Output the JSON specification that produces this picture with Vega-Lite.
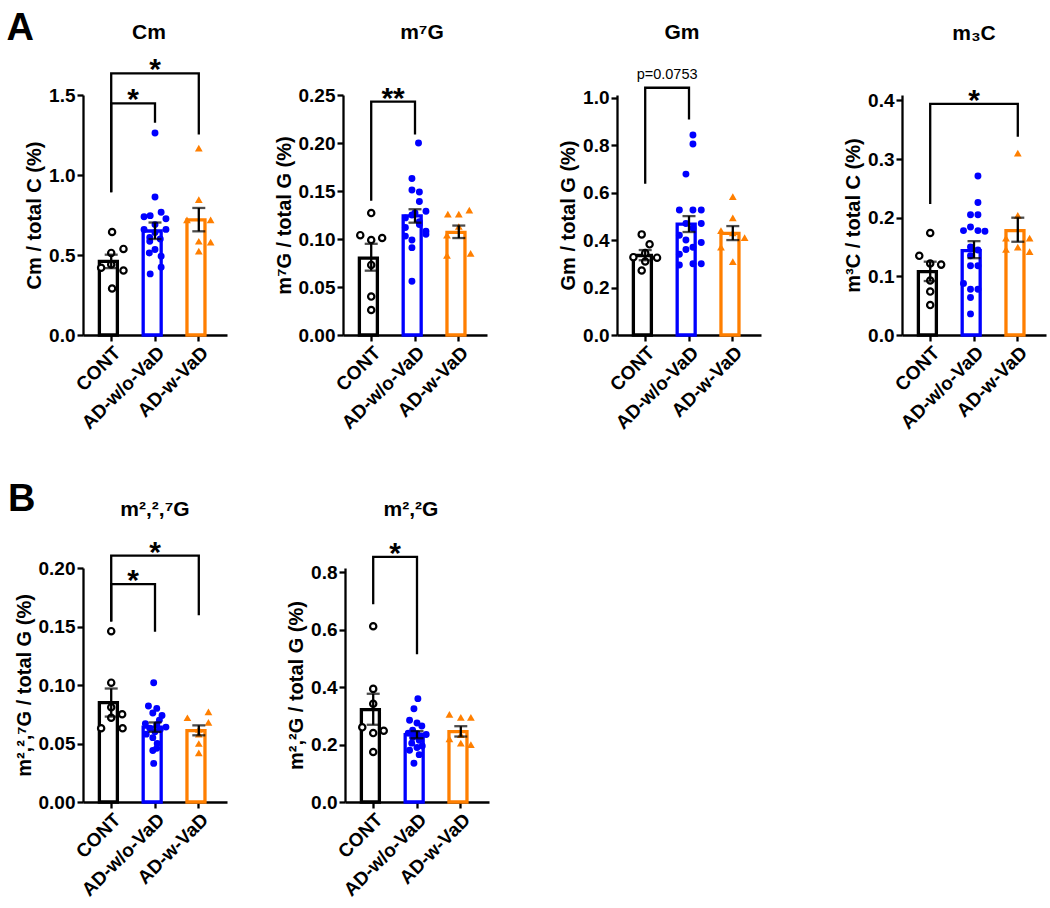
{
"$schema": "https://vega.github.io/schema/vega-lite/v6.json",
"padding": {"left": 6, "top": 10, "right": 2, "bottom": 2},
"background": "white",
"datasets": {
"pts": [
{"p":"Cm","g":"CONT","v":0.644,"j":0.02},{"p":"Cm","g":"CONT","v":0.538,"j":0.28},{"p":"Cm","g":"CONT","v":0.513,"j":0},{"p":"Cm","g":"CONT","v":0.44,"j":0},{"p":"Cm","g":"CONT","v":0.42,"j":-0.23},{"p":"Cm","g":"CONT","v":0.403,"j":0.28},{"p":"Cm","g":"CONT","v":0.291,"j":0.02},
{"p":"Cm","g":"AD-w/o-VaD","v":1.263,"j":0},{"p":"Cm","g":"AD-w/o-VaD","v":0.862,"j":0},{"p":"Cm","g":"AD-w/o-VaD","v":0.746,"j":-0.11},{"p":"Cm","g":"AD-w/o-VaD","v":0.739,"j":-0.25},{"p":"Cm","g":"AD-w/o-VaD","v":0.767,"j":0.14},{"p":"Cm","g":"AD-w/o-VaD","v":0.727,"j":0.25},{"p":"Cm","g":"AD-w/o-VaD","v":0.69,"j":0},{"p":"Cm","g":"AD-w/o-VaD","v":0.66,"j":-0.25},{"p":"Cm","g":"AD-w/o-VaD","v":0.66,"j":0.25},{"p":"Cm","g":"AD-w/o-VaD","v":0.64,"j":0},{"p":"Cm","g":"AD-w/o-VaD","v":0.61,"j":-0.12},{"p":"Cm","g":"AD-w/o-VaD","v":0.6,"j":0.12},{"p":"Cm","g":"AD-w/o-VaD","v":0.586,"j":-0.12},{"p":"Cm","g":"AD-w/o-VaD","v":0.534,"j":0},{"p":"Cm","g":"AD-w/o-VaD","v":0.513,"j":-0.13},{"p":"Cm","g":"AD-w/o-VaD","v":0.492,"j":0.14},{"p":"Cm","g":"AD-w/o-VaD","v":0.424,"j":0.14},{"p":"Cm","g":"AD-w/o-VaD","v":0.382,"j":-0.11},
{"p":"Cm","g":"AD-w-VaD","v":1.168,"j":0},{"p":"Cm","g":"AD-w-VaD","v":0.846,"j":0},{"p":"Cm","g":"AD-w-VaD","v":0.72,"j":-0.27},{"p":"Cm","g":"AD-w-VaD","v":0.72,"j":0.27},{"p":"Cm","g":"AD-w-VaD","v":0.586,"j":0},{"p":"Cm","g":"AD-w-VaD","v":0.58,"j":0.27},{"p":"Cm","g":"AD-w-VaD","v":0.524,"j":0},
{"p":"m7G","g":"CONT","v":0.127,"j":0},{"p":"m7G","g":"CONT","v":0.104,"j":-0.25},{"p":"m7G","g":"CONT","v":0.099,"j":0},{"p":"m7G","g":"CONT","v":0.101,"j":0.25},{"p":"m7G","g":"CONT","v":0.073,"j":0},{"p":"m7G","g":"CONT","v":0.04,"j":0},{"p":"m7G","g":"CONT","v":0.026,"j":0},
{"p":"m7G","g":"AD-w/o-VaD","v":0.2,"j":0.08},{"p":"m7G","g":"AD-w/o-VaD","v":0.163,"j":-0.07},{"p":"m7G","g":"AD-w/o-VaD","v":0.151,"j":-0.07},{"p":"m7G","g":"AD-w/o-VaD","v":0.149,"j":0.1},{"p":"m7G","g":"AD-w/o-VaD","v":0.139,"j":0.1},{"p":"m7G","g":"AD-w/o-VaD","v":0.129,"j":0.25},{"p":"m7G","g":"AD-w/o-VaD","v":0.127,"j":0},{"p":"m7G","g":"AD-w/o-VaD","v":0.125,"j":-0.07},{"p":"m7G","g":"AD-w/o-VaD","v":0.122,"j":-0.22},{"p":"m7G","g":"AD-w/o-VaD","v":0.118,"j":0.1},{"p":"m7G","g":"AD-w/o-VaD","v":0.115,"j":0.1},{"p":"m7G","g":"AD-w/o-VaD","v":0.112,"j":-0.22},{"p":"m7G","g":"AD-w/o-VaD","v":0.108,"j":0.25},{"p":"m7G","g":"AD-w/o-VaD","v":0.105,"j":0.25},{"p":"m7G","g":"AD-w/o-VaD","v":0.103,"j":-0.22},{"p":"m7G","g":"AD-w/o-VaD","v":0.099,"j":-0.07},{"p":"m7G","g":"AD-w/o-VaD","v":0.091,"j":-0.07},{"p":"m7G","g":"AD-w/o-VaD","v":0.056,"j":-0.07},
{"p":"m7G","g":"AD-w-VaD","v":0.126,"j":-0.25},{"p":"m7G","g":"AD-w-VaD","v":0.126,"j":0},{"p":"m7G","g":"AD-w-VaD","v":0.13,"j":0.24},{"p":"m7G","g":"AD-w-VaD","v":0.113,"j":0},{"p":"m7G","g":"AD-w-VaD","v":0.104,"j":-0.27},{"p":"m7G","g":"AD-w-VaD","v":0.083,"j":-0.27},{"p":"m7G","g":"AD-w-VaD","v":0.085,"j":0.27},
{"p":"Gm","g":"CONT","v":0.424,"j":-0.08},{"p":"Gm","g":"CONT","v":0.382,"j":0.1},{"p":"Gm","g":"CONT","v":0.345,"j":0},{"p":"Gm","g":"CONT","v":0.328,"j":-0.27},{"p":"Gm","g":"CONT","v":0.326,"j":0.27},{"p":"Gm","g":"CONT","v":0.31,"j":0},{"p":"Gm","g":"CONT","v":0.272,"j":-0.08},
{"p":"Gm","g":"AD-w/o-VaD","v":0.843,"j":0.09},{"p":"Gm","g":"AD-w/o-VaD","v":0.805,"j":0.09},{"p":"Gm","g":"AD-w/o-VaD","v":0.678,"j":-0.07},{"p":"Gm","g":"AD-w/o-VaD","v":0.527,"j":-0.22},{"p":"Gm","g":"AD-w/o-VaD","v":0.527,"j":0.09},{"p":"Gm","g":"AD-w/o-VaD","v":0.527,"j":0.28},{"p":"Gm","g":"AD-w/o-VaD","v":0.47,"j":-0.07},{"p":"Gm","g":"AD-w/o-VaD","v":0.47,"j":0.28},{"p":"Gm","g":"AD-w/o-VaD","v":0.45,"j":0.09},{"p":"Gm","g":"AD-w/o-VaD","v":0.42,"j":-0.22},{"p":"Gm","g":"AD-w/o-VaD","v":0.4,"j":-0.07},{"p":"Gm","g":"AD-w/o-VaD","v":0.39,"j":0.28},{"p":"Gm","g":"AD-w/o-VaD","v":0.37,"j":0.09},{"p":"Gm","g":"AD-w/o-VaD","v":0.36,"j":-0.07},{"p":"Gm","g":"AD-w/o-VaD","v":0.34,"j":-0.22},{"p":"Gm","g":"AD-w/o-VaD","v":0.3,"j":0.09},{"p":"Gm","g":"AD-w/o-VaD","v":0.295,"j":-0.22},{"p":"Gm","g":"AD-w/o-VaD","v":0.3,"j":0.28},
{"p":"Gm","g":"AD-w-VaD","v":0.583,"j":0},{"p":"Gm","g":"AD-w-VaD","v":0.494,"j":0},{"p":"Gm","g":"AD-w-VaD","v":0.44,"j":-0.27},{"p":"Gm","g":"AD-w-VaD","v":0.43,"j":0},{"p":"Gm","g":"AD-w-VaD","v":0.41,"j":0.27},{"p":"Gm","g":"AD-w-VaD","v":0.37,"j":-0.27},{"p":"Gm","g":"AD-w-VaD","v":0.309,"j":0},
{"p":"m3C","g":"CONT","v":0.174,"j":0},{"p":"m3C","g":"CONT","v":0.135,"j":-0.25},{"p":"m3C","g":"CONT","v":0.122,"j":0},{"p":"m3C","g":"CONT","v":0.12,"j":0.25},{"p":"m3C","g":"CONT","v":0.093,"j":0},{"p":"m3C","g":"CONT","v":0.074,"j":0},{"p":"m3C","g":"CONT","v":0.051,"j":0},
{"p":"m3C","g":"AD-w/o-VaD","v":0.271,"j":0.09},{"p":"m3C","g":"AD-w/o-VaD","v":0.226,"j":0.09},{"p":"m3C","g":"AD-w/o-VaD","v":0.205,"j":-0.08},{"p":"m3C","g":"AD-w/o-VaD","v":0.205,"j":0.09},{"p":"m3C","g":"AD-w/o-VaD","v":0.184,"j":-0.08},{"p":"m3C","g":"AD-w/o-VaD","v":0.178,"j":-0.24},{"p":"m3C","g":"AD-w/o-VaD","v":0.178,"j":0.09},{"p":"m3C","g":"AD-w/o-VaD","v":0.177,"j":0.25},{"p":"m3C","g":"AD-w/o-VaD","v":0.15,"j":-0.08},{"p":"m3C","g":"AD-w/o-VaD","v":0.145,"j":0.09},{"p":"m3C","g":"AD-w/o-VaD","v":0.135,"j":-0.08},{"p":"m3C","g":"AD-w/o-VaD","v":0.118,"j":-0.08},{"p":"m3C","g":"AD-w/o-VaD","v":0.118,"j":0.09},{"p":"m3C","g":"AD-w/o-VaD","v":0.088,"j":-0.24},{"p":"m3C","g":"AD-w/o-VaD","v":0.078,"j":-0.08},{"p":"m3C","g":"AD-w/o-VaD","v":0.078,"j":0.09},{"p":"m3C","g":"AD-w/o-VaD","v":0.064,"j":-0.08},{"p":"m3C","g":"AD-w/o-VaD","v":0.036,"j":-0.08},
{"p":"m3C","g":"AD-w-VaD","v":0.31,"j":0},{"p":"m3C","g":"AD-w-VaD","v":0.204,"j":0},{"p":"m3C","g":"AD-w-VaD","v":0.165,"j":-0.27},{"p":"m3C","g":"AD-w-VaD","v":0.165,"j":0.27},{"p":"m3C","g":"AD-w-VaD","v":0.15,"j":0},{"p":"m3C","g":"AD-w-VaD","v":0.146,"j":-0.27},{"p":"m3C","g":"AD-w-VaD","v":0.142,"j":0.27},
{"p":"m227G","g":"CONT","v":0.146,"j":0},{"p":"m227G","g":"CONT","v":0.102,"j":0},{"p":"m227G","g":"CONT","v":0.081,"j":0},{"p":"m227G","g":"CONT","v":0.072,"j":0},{"p":"m227G","g":"CONT","v":0.075,"j":0.25},{"p":"m227G","g":"CONT","v":0.063,"j":-0.23},{"p":"m227G","g":"CONT","v":0.063,"j":0.26},
{"p":"m227G","g":"AD-w/o-VaD","v":0.102,"j":-0.03},{"p":"m227G","g":"AD-w/o-VaD","v":0.082,"j":-0.15},{"p":"m227G","g":"AD-w/o-VaD","v":0.08,"j":0.04},{"p":"m227G","g":"AD-w/o-VaD","v":0.076,"j":-0.05},{"p":"m227G","g":"AD-w/o-VaD","v":0.074,"j":0.16},{"p":"m227G","g":"AD-w/o-VaD","v":0.07,"j":0.1},{"p":"m227G","g":"AD-w/o-VaD","v":0.067,"j":-0.22},{"p":"m227G","g":"AD-w/o-VaD","v":0.066,"j":0.04},{"p":"m227G","g":"AD-w/o-VaD","v":0.064,"j":0.25},{"p":"m227G","g":"AD-w/o-VaD","v":0.063,"j":-0.12},{"p":"m227G","g":"AD-w/o-VaD","v":0.062,"j":0.12},{"p":"m227G","g":"AD-w/o-VaD","v":0.06,"j":0},{"p":"m227G","g":"AD-w/o-VaD","v":0.058,"j":-0.2},{"p":"m227G","g":"AD-w/o-VaD","v":0.055,"j":-0.05},{"p":"m227G","g":"AD-w/o-VaD","v":0.05,"j":0.05},{"p":"m227G","g":"AD-w/o-VaD","v":0.046,"j":0.04},{"p":"m227G","g":"AD-w/o-VaD","v":0.044,"j":-0.05},{"p":"m227G","g":"AD-w/o-VaD","v":0.033,"j":-0.03},
{"p":"m227G","g":"AD-w-VaD","v":0.077,"j":0.22},{"p":"m227G","g":"AD-w-VaD","v":0.072,"j":-0.26},{"p":"m227G","g":"AD-w-VaD","v":0.068,"j":0.22},{"p":"m227G","g":"AD-w-VaD","v":0.062,"j":0},{"p":"m227G","g":"AD-w-VaD","v":0.058,"j":0},{"p":"m227G","g":"AD-w-VaD","v":0.05,"j":0},{"p":"m227G","g":"AD-w-VaD","v":0.042,"j":0},
{"p":"m22G","g":"CONT","v":0.612,"j":0},{"p":"m22G","g":"CONT","v":0.394,"j":0},{"p":"m22G","g":"CONT","v":0.342,"j":0},{"p":"m22G","g":"CONT","v":0.26,"j":-0.25},{"p":"m22G","g":"CONT","v":0.248,"j":0.24},{"p":"m22G","g":"CONT","v":0.24,"j":0},{"p":"m22G","g":"CONT","v":0.174,"j":0},
{"p":"m22G","g":"AD-w/o-VaD","v":0.36,"j":0.02},{"p":"m22G","g":"AD-w/o-VaD","v":0.325,"j":-0.07},{"p":"m22G","g":"AD-w/o-VaD","v":0.285,"j":-0.17},{"p":"m22G","g":"AD-w/o-VaD","v":0.275,"j":0},{"p":"m22G","g":"AD-w/o-VaD","v":0.265,"j":0.11},{"p":"m22G","g":"AD-w/o-VaD","v":0.25,"j":-0.1},{"p":"m22G","g":"AD-w/o-VaD","v":0.24,"j":-0.2},{"p":"m22G","g":"AD-w/o-VaD","v":0.238,"j":0},{"p":"m22G","g":"AD-w/o-VaD","v":0.235,"j":0.21},{"p":"m22G","g":"AD-w/o-VaD","v":0.23,"j":0.1},{"p":"m22G","g":"AD-w/o-VaD","v":0.225,"j":-0.1},{"p":"m22G","g":"AD-w/o-VaD","v":0.215,"j":0.05},{"p":"m22G","g":"AD-w/o-VaD","v":0.205,"j":-0.12},{"p":"m22G","g":"AD-w/o-VaD","v":0.195,"j":0.12},{"p":"m22G","g":"AD-w/o-VaD","v":0.19,"j":0},{"p":"m22G","g":"AD-w/o-VaD","v":0.18,"j":-0.17},{"p":"m22G","g":"AD-w/o-VaD","v":0.165,"j":0.05},{"p":"m22G","g":"AD-w/o-VaD","v":0.135,"j":-0.07},
{"p":"m22G","g":"AD-w-VaD","v":0.305,"j":-0.26},{"p":"m22G","g":"AD-w-VaD","v":0.295,"j":0},{"p":"m22G","g":"AD-w-VaD","v":0.295,"j":0.23},{"p":"m22G","g":"AD-w-VaD","v":0.235,"j":0},{"p":"m22G","g":"AD-w-VaD","v":0.22,"j":-0.26},{"p":"m22G","g":"AD-w-VaD","v":0.205,"j":0},{"p":"m22G","g":"AD-w-VaD","v":0.2,"j":0.23}
],
"bars": [
{"p":"Cm","g":"CONT","m":0.46,"lo":0.418,"hi":0.502},{"p":"Cm","g":"AD-w/o-VaD","m":0.65,"lo":0.6,"hi":0.703},{"p":"Cm","g":"AD-w-VaD","m":0.72,"lo":0.648,"hi":0.794},
{"p":"m7G","g":"CONT","m":0.08,"lo":0.067,"hi":0.095},{"p":"m7G","g":"AD-w/o-VaD","m":0.124,"lo":0.117,"hi":0.131},{"p":"m7G","g":"AD-w-VaD","m":0.107,"lo":0.101,"hi":0.114},
{"p":"Gm","g":"CONT","m":0.335,"lo":0.315,"hi":0.358},{"p":"Gm","g":"AD-w/o-VaD","m":0.467,"lo":0.434,"hi":0.501},{"p":"Gm","g":"AD-w-VaD","m":0.428,"lo":0.4,"hi":0.459},
{"p":"m3C","g":"CONT","m":0.108,"lo":0.092,"hi":0.125},{"p":"m3C","g":"AD-w/o-VaD","m":0.144,"lo":0.131,"hi":0.16},{"p":"m3C","g":"AD-w-VaD","m":0.178,"lo":0.159,"hi":0.2},
{"p":"m227G","g":"CONT","m":0.085,"lo":0.073,"hi":0.097},{"p":"m227G","g":"AD-w/o-VaD","m":0.064,"lo":0.06,"hi":0.068},{"p":"m227G","g":"AD-w-VaD","m":0.061,"lo":0.057,"hi":0.0655},
{"p":"m22G","g":"CONT","m":0.322,"lo":0.269,"hi":0.377},{"p":"m22G","g":"AD-w/o-VaD","m":0.235,"lo":0.222,"hi":0.247},{"p":"m22G","g":"AD-w-VaD","m":0.245,"lo":0.228,"hi":0.264}
],
"brk": [
{"p":"Cm","b":1,"o":1,"g":"CONT","v":0.899},{"p":"Cm","b":1,"o":2,"g":"CONT","v":1.448},{"p":"Cm","b":1,"o":3,"g":"AD-w/o-VaD","v":1.448},{"p":"Cm","b":1,"o":4,"g":"AD-w/o-VaD","v":1.334},
{"p":"Cm","b":2,"o":1,"g":"CONT","v":0.899},{"p":"Cm","b":2,"o":2,"g":"CONT","v":1.635},{"p":"Cm","b":2,"o":3,"g":"AD-w-VaD","v":1.635},{"p":"Cm","b":2,"o":4,"g":"AD-w-VaD","v":1.261},
{"p":"m7G","b":1,"o":1,"g":"CONT","v":0.141},{"p":"m7G","b":1,"o":2,"g":"CONT","v":0.243},{"p":"m7G","b":1,"o":3,"g":"AD-w/o-VaD","v":0.243},{"p":"m7G","b":1,"o":4,"g":"AD-w/o-VaD","v":0.21},
{"p":"Gm","b":1,"o":1,"g":"CONT","v":0.642},{"p":"Gm","b":1,"o":2,"g":"CONT","v":1.042},{"p":"Gm","b":1,"o":3,"g":"AD-w/o-VaD","v":1.042},{"p":"Gm","b":1,"o":4,"g":"AD-w/o-VaD","v":0.913},
{"p":"m3C","b":1,"o":1,"g":"CONT","v":0.2255},{"p":"m3C","b":1,"o":2,"g":"CONT","v":0.394},{"p":"m3C","b":1,"o":3,"g":"AD-w-VaD","v":0.394},{"p":"m3C","b":1,"o":4,"g":"AD-w-VaD","v":0.34},
{"p":"m227G","b":1,"o":1,"g":"CONT","v":0.1553},{"p":"m227G","b":1,"o":2,"g":"CONT","v":0.1863},{"p":"m227G","b":1,"o":3,"g":"AD-w/o-VaD","v":0.1863},{"p":"m227G","b":1,"o":4,"g":"AD-w/o-VaD","v":0.1464},
{"p":"m227G","b":2,"o":1,"g":"CONT","v":0.1553},{"p":"m227G","b":2,"o":2,"g":"CONT","v":0.2105},{"p":"m227G","b":2,"o":3,"g":"AD-w-VaD","v":0.2105},{"p":"m227G","b":2,"o":4,"g":"AD-w-VaD","v":0.1607},
{"p":"m22G","b":1,"o":1,"g":"CONT","v":0.693},{"p":"m22G","b":1,"o":2,"g":"CONT","v":0.854},{"p":"m22G","b":1,"o":3,"g":"AD-w/o-VaD","v":0.854},{"p":"m22G","b":1,"o":4,"g":"AD-w/o-VaD","v":0.519}
],
"sig": [
{"p":"Cm","g":"CONT","j":0.5,"v":1.448,"t":"*"},{"p":"Cm","g":"AD-w/o-VaD","j":0,"v":1.635,"t":"*"},
{"p":"m7G","g":"CONT","j":0.5,"v":0.243,"t":"**"},
{"p":"Gm","g":"CONT","j":0.5,"v":1.042,"t":"p=0.0753"},
{"p":"m3C","g":"AD-w/o-VaD","j":0,"v":0.394,"t":"*"},
{"p":"m227G","g":"CONT","j":0.5,"v":0.1863,"t":"*"},{"p":"m227G","g":"AD-w/o-VaD","j":0,"v":0.2105,"t":"*"},
{"p":"m22G","g":"CONT","j":0.5,"v":0.854,"t":"*"}
]
},
"spacing": 47,
"vconcat": [
{
"title": {"text": "A", "anchor": "start", "fontSize": 38, "offset": 0, "dx": -18, "dy": 26.5},
"spacing": 47,
"hconcat": [
{
"width": 144, "height": 240,
"title": {"text": "Cm", "frame": "group", "offset": 12, "dx": -6},
"layer": [
{"data": {"name": "bars"}, "transform": [{"filter": "datum.p==='Cm'"}], "mark": {"type": "bar", "fill": "white", "strokeWidth": 3.3},
"encoding": {"x": {"field": "g", "type": "nominal", "scale": {"domain": ["CONT","AD-w/o-VaD","AD-w-VaD"], "paddingInner": 0.46, "paddingOuter": 0.374}, "axis": {"title": null, "labelAngle": -45}},
"y": {"field": "m", "type": "quantitative", "scale": {"domain": [0, 1.5], "nice": false}, "axis": {"title": "Cm / total C (%)", "values": [0, 0.5, 1, 1.5], "format": ".1f"}},
"stroke": {"condition": [{"test": "datum.g==='CONT'", "value": "#000000"}, {"test": "datum.g==='AD-w-VaD'", "value": "#ff7f00"}], "value": "#0000ff"}}},
{"data": {"name": "pts"}, "transform": [{"filter": "datum.p==='Cm'"}], "mark": {"type": "point", "filled": true, "opacity": 1},
"encoding": {"x": {"field": "g", "type": "nominal"}, "xOffset": {"field": "j", "type": "quantitative", "scale": {"domain": [-1, 1], "range": [-31.97, 55.63]}}, "y": {"field": "v", "type": "quantitative"},
"shape": {"condition": {"test": "datum.g==='AD-w-VaD'", "value": "triangle-up"}, "value": "circle"},
"fill": {"condition": [{"test": "datum.g==='CONT'", "value": "#ffffff"}, {"test": "datum.g==='AD-w-VaD'", "value": "#ff7f00"}], "value": "#0000ff"},
"stroke": {"value": "#000000"},
"strokeWidth": {"condition": {"test": "datum.g==='CONT'", "value": 2.2}, "value": 0},
"size": {"condition": [{"test": "datum.g==='CONT'", "value": 40}, {"test": "datum.g==='AD-w-VaD'", "value": 60}], "value": 48}}},
{"data": {"name": "bars"}, "transform": [{"filter": "datum.p==='Cm'"}], "mark": {"type": "rule", "color": "#000000", "strokeWidth": 2.3},
"encoding": {"x": {"field": "g", "type": "nominal"}, "y": {"field": "lo", "type": "quantitative"}, "y2": {"field": "hi"}}},
{"data": {"name": "bars"}, "transform": [{"filter": "datum.p==='Cm'"}, {"fold": ["lo", "hi"], "as": ["k", "e"]}], "mark": {"type": "tick", "orient": "horizontal", "color": "#000000", "size": 13, "thickness": 2.3},
"encoding": {"x": {"field": "g", "type": "nominal"}, "y": {"field": "e", "type": "quantitative"}}},
{"data": {"name": "brk"}, "transform": [{"filter": "datum.p==='Cm'"}], "mark": {"type": "line", "color": "#000000", "strokeWidth": 2.3, "strokeJoin": "miter", "strokeCap": "square"},
"encoding": {"x": {"field": "g", "type": "nominal"}, "y": {"field": "v", "type": "quantitative"}, "detail": {"field": "b", "type": "nominal"}, "order": {"field": "o", "type": "quantitative"}}},
{"data": {"name": "sig"}, "transform": [{"filter": "datum.p==='Cm'"}], "mark": {"type": "text", "font": "Liberation Sans", "fontSize": 30, "fontWeight": "bold", "baseline": "alphabetic", "dy": 6, "color": "#000000"},
"encoding": {"x": {"field": "g", "type": "nominal"}, "xOffset": {"field": "j", "type": "quantitative"}, "y": {"field": "v", "type": "quantitative"}, "text": {"field": "t", "type": "nominal"}}}
]
},
{
"spacing": 71,
"hconcat": [
{
"width": 144, "height": 240,
"title": {"text": "m⁷G", "frame": "group", "offset": 41, "dx": 7},
"layer": [
{"data": {"name": "bars"}, "transform": [{"filter": "datum.p==='m7G'"}], "mark": {"type": "bar", "fill": "white", "strokeWidth": 3.3},
"encoding": {"x": {"field": "g", "type": "nominal", "scale": {"domain": ["CONT","AD-w/o-VaD","AD-w-VaD"], "paddingInner": 0.46, "paddingOuter": 0.374}, "axis": {"title": null, "labelAngle": -45}},
"y": {"field": "m", "type": "quantitative", "scale": {"domain": [0, 0.25], "nice": false}, "axis": {"title": "m⁷G / total G (%)", "values": [0, 0.05, 0.1, 0.15, 0.2, 0.25], "format": ".2f"}},
"stroke": {"condition": [{"test": "datum.g==='CONT'", "value": "#000000"}, {"test": "datum.g==='AD-w-VaD'", "value": "#ff7f00"}], "value": "#0000ff"}}},
{"data": {"name": "pts"}, "transform": [{"filter": "datum.p==='m7G'"}], "mark": {"type": "point", "filled": true, "opacity": 1},
"encoding": {"x": {"field": "g", "type": "nominal"}, "xOffset": {"field": "j", "type": "quantitative", "scale": {"domain": [-1, 1], "range": [-31.97, 55.63]}}, "y": {"field": "v", "type": "quantitative"},
"shape": {"condition": {"test": "datum.g==='AD-w-VaD'", "value": "triangle-up"}, "value": "circle"},
"fill": {"condition": [{"test": "datum.g==='CONT'", "value": "#ffffff"}, {"test": "datum.g==='AD-w-VaD'", "value": "#ff7f00"}], "value": "#0000ff"},
"stroke": {"value": "#000000"},
"strokeWidth": {"condition": {"test": "datum.g==='CONT'", "value": 2.2}, "value": 0},
"size": {"condition": [{"test": "datum.g==='CONT'", "value": 40}, {"test": "datum.g==='AD-w-VaD'", "value": 60}], "value": 48}}},
{"data": {"name": "bars"}, "transform": [{"filter": "datum.p==='m7G'"}], "mark": {"type": "rule", "color": "#000000", "strokeWidth": 2.3},
"encoding": {"x": {"field": "g", "type": "nominal"}, "y": {"field": "lo", "type": "quantitative"}, "y2": {"field": "hi"}}},
{"data": {"name": "bars"}, "transform": [{"filter": "datum.p==='m7G'"}, {"fold": ["lo", "hi"], "as": ["k", "e"]}], "mark": {"type": "tick", "orient": "horizontal", "color": "#000000", "size": 13, "thickness": 2.3},
"encoding": {"x": {"field": "g", "type": "nominal"}, "y": {"field": "e", "type": "quantitative"}}},
{"data": {"name": "brk"}, "transform": [{"filter": "datum.p==='m7G'"}], "mark": {"type": "line", "color": "#000000", "strokeWidth": 2.3, "strokeJoin": "miter", "strokeCap": "square"},
"encoding": {"x": {"field": "g", "type": "nominal"}, "y": {"field": "v", "type": "quantitative"}, "detail": {"field": "b", "type": "nominal"}, "order": {"field": "o", "type": "quantitative"}}},
{"data": {"name": "sig"}, "transform": [{"filter": "datum.p==='m7G'"}], "mark": {"type": "text", "font": "Liberation Sans", "fontSize": 30, "fontWeight": "bold", "baseline": "alphabetic", "dy": 6, "color": "#000000"},
"encoding": {"x": {"field": "g", "type": "nominal"}, "xOffset": {"field": "j", "type": "quantitative"}, "y": {"field": "v", "type": "quantitative"}, "text": {"field": "t", "type": "nominal"}}}
]
},
{
"spacing": 82,
"hconcat": [
{
"width": 144, "height": 240,
"title": {"text": "Gm", "frame": "group", "offset": 24, "dx": -7},
"layer": [
{"data": {"name": "bars"}, "transform": [{"filter": "datum.p==='Gm'"}], "mark": {"type": "bar", "fill": "white", "strokeWidth": 3.3},
"encoding": {"x": {"field": "g", "type": "nominal", "scale": {"domain": ["CONT","AD-w/o-VaD","AD-w-VaD"], "paddingInner": 0.46, "paddingOuter": 0.374}, "axis": {"title": null, "labelAngle": -45}},
"y": {"field": "m", "type": "quantitative", "scale": {"domain": [0, 1.0114], "nice": false}, "axis": {"title": "Gm / total G (%)", "values": [0, 0.2, 0.4, 0.6, 0.8, 1], "format": ".1f"}},
"stroke": {"condition": [{"test": "datum.g==='CONT'", "value": "#000000"}, {"test": "datum.g==='AD-w-VaD'", "value": "#ff7f00"}], "value": "#0000ff"}}},
{"data": {"name": "pts"}, "transform": [{"filter": "datum.p==='Gm'"}], "mark": {"type": "point", "filled": true, "opacity": 1},
"encoding": {"x": {"field": "g", "type": "nominal"}, "xOffset": {"field": "j", "type": "quantitative", "scale": {"domain": [-1, 1], "range": [-31.97, 55.63]}}, "y": {"field": "v", "type": "quantitative"},
"shape": {"condition": {"test": "datum.g==='AD-w-VaD'", "value": "triangle-up"}, "value": "circle"},
"fill": {"condition": [{"test": "datum.g==='CONT'", "value": "#ffffff"}, {"test": "datum.g==='AD-w-VaD'", "value": "#ff7f00"}], "value": "#0000ff"},
"stroke": {"value": "#000000"},
"strokeWidth": {"condition": {"test": "datum.g==='CONT'", "value": 2.2}, "value": 0},
"size": {"condition": [{"test": "datum.g==='CONT'", "value": 40}, {"test": "datum.g==='AD-w-VaD'", "value": 60}], "value": 48}}},
{"data": {"name": "bars"}, "transform": [{"filter": "datum.p==='Gm'"}], "mark": {"type": "rule", "color": "#000000", "strokeWidth": 2.3},
"encoding": {"x": {"field": "g", "type": "nominal"}, "y": {"field": "lo", "type": "quantitative"}, "y2": {"field": "hi"}}},
{"data": {"name": "bars"}, "transform": [{"filter": "datum.p==='Gm'"}, {"fold": ["lo", "hi"], "as": ["k", "e"]}], "mark": {"type": "tick", "orient": "horizontal", "color": "#000000", "size": 13, "thickness": 2.3},
"encoding": {"x": {"field": "g", "type": "nominal"}, "y": {"field": "e", "type": "quantitative"}}},
{"data": {"name": "brk"}, "transform": [{"filter": "datum.p==='Gm'"}], "mark": {"type": "line", "color": "#000000", "strokeWidth": 2.3, "strokeJoin": "miter", "strokeCap": "square"},
"encoding": {"x": {"field": "g", "type": "nominal"}, "y": {"field": "v", "type": "quantitative"}, "detail": {"field": "b", "type": "nominal"}, "order": {"field": "o", "type": "quantitative"}}},
{"data": {"name": "sig"}, "transform": [{"filter": "datum.p==='Gm'"}], "mark": {"type": "text", "font": "Liberation Sans", "fontSize": 14.5, "fontWeight": "normal", "baseline": "alphabetic", "dy": -9, "color": "#000000"},
"encoding": {"x": {"field": "g", "type": "nominal"}, "xOffset": {"field": "j", "type": "quantitative"}, "y": {"field": "v", "type": "quantitative"}, "text": {"field": "t", "type": "nominal"}}}
]
},
{
"width": 144, "height": 240,
"title": {"text": "m₃C", "frame": "group", "offset": 42, "dx": 0},
"layer": [
{"data": {"name": "bars"}, "transform": [{"filter": "datum.p==='m3C'"}], "mark": {"type": "bar", "fill": "white", "strokeWidth": 3.3},
"encoding": {"x": {"field": "g", "type": "nominal", "scale": {"domain": ["CONT","AD-w/o-VaD","AD-w-VaD"], "paddingInner": 0.46, "paddingOuter": 0.374}, "axis": {"title": null, "labelAngle": -45}},
"y": {"field": "m", "type": "quantitative", "scale": {"domain": [0, 0.4092], "nice": false}, "axis": {"title": "m³C / total C (%)", "values": [0, 0.1, 0.2, 0.3, 0.4], "format": ".1f"}},
"stroke": {"condition": [{"test": "datum.g==='CONT'", "value": "#000000"}, {"test": "datum.g==='AD-w-VaD'", "value": "#ff7f00"}], "value": "#0000ff"}}},
{"data": {"name": "pts"}, "transform": [{"filter": "datum.p==='m3C'"}], "mark": {"type": "point", "filled": true, "opacity": 1},
"encoding": {"x": {"field": "g", "type": "nominal"}, "xOffset": {"field": "j", "type": "quantitative", "scale": {"domain": [-1, 1], "range": [-31.97, 55.63]}}, "y": {"field": "v", "type": "quantitative"},
"shape": {"condition": {"test": "datum.g==='AD-w-VaD'", "value": "triangle-up"}, "value": "circle"},
"fill": {"condition": [{"test": "datum.g==='CONT'", "value": "#ffffff"}, {"test": "datum.g==='AD-w-VaD'", "value": "#ff7f00"}], "value": "#0000ff"},
"stroke": {"value": "#000000"},
"strokeWidth": {"condition": {"test": "datum.g==='CONT'", "value": 2.2}, "value": 0},
"size": {"condition": [{"test": "datum.g==='CONT'", "value": 40}, {"test": "datum.g==='AD-w-VaD'", "value": 60}], "value": 48}}},
{"data": {"name": "bars"}, "transform": [{"filter": "datum.p==='m3C'"}], "mark": {"type": "rule", "color": "#000000", "strokeWidth": 2.3},
"encoding": {"x": {"field": "g", "type": "nominal"}, "y": {"field": "lo", "type": "quantitative"}, "y2": {"field": "hi"}}},
{"data": {"name": "bars"}, "transform": [{"filter": "datum.p==='m3C'"}, {"fold": ["lo", "hi"], "as": ["k", "e"]}], "mark": {"type": "tick", "orient": "horizontal", "color": "#000000", "size": 13, "thickness": 2.3},
"encoding": {"x": {"field": "g", "type": "nominal"}, "y": {"field": "e", "type": "quantitative"}}},
{"data": {"name": "brk"}, "transform": [{"filter": "datum.p==='m3C'"}], "mark": {"type": "line", "color": "#000000", "strokeWidth": 2.3, "strokeJoin": "miter", "strokeCap": "square"},
"encoding": {"x": {"field": "g", "type": "nominal"}, "y": {"field": "v", "type": "quantitative"}, "detail": {"field": "b", "type": "nominal"}, "order": {"field": "o", "type": "quantitative"}}},
{"data": {"name": "sig"}, "transform": [{"filter": "datum.p==='m3C'"}], "mark": {"type": "text", "font": "Liberation Sans", "fontSize": 30, "fontWeight": "bold", "baseline": "alphabetic", "dy": 6, "color": "#000000"},
"encoding": {"x": {"field": "g", "type": "nominal"}, "xOffset": {"field": "j", "type": "quantitative"}, "y": {"field": "v", "type": "quantitative"}, "text": {"field": "t", "type": "nominal"}}}
]
}
]
}
]
}
]
},
{
"title": {"text": "B", "anchor": "start", "fontSize": 38, "offset": 0, "dx": -6, "dy": 20},
"spacing": 59,
"hconcat": [
{
"width": 144, "height": 234,
"title": {"text": "m²,²,⁷G", "frame": "group", "offset": 18, "dx": 0},
"layer": [
{"data": {"name": "bars"}, "transform": [{"filter": "datum.p==='m227G'"}], "mark": {"type": "bar", "fill": "white", "strokeWidth": 3.3},
"encoding": {"x": {"field": "g", "type": "nominal", "scale": {"domain": ["CONT","AD-w/o-VaD","AD-w-VaD"], "paddingInner": 0.46, "paddingOuter": 0.374}, "axis": {"title": null, "labelAngle": -45}},
"y": {"field": "m", "type": "quantitative", "scale": {"domain": [0, 0.2], "nice": false}, "axis": {"title": "m²,²,⁷G / total G (%)", "values": [0, 0.05, 0.1, 0.15, 0.2], "format": ".2f"}},
"stroke": {"condition": [{"test": "datum.g==='CONT'", "value": "#000000"}, {"test": "datum.g==='AD-w-VaD'", "value": "#ff7f00"}], "value": "#0000ff"}}},
{"data": {"name": "pts"}, "transform": [{"filter": "datum.p==='m227G'"}], "mark": {"type": "point", "filled": true, "opacity": 1},
"encoding": {"x": {"field": "g", "type": "nominal"}, "xOffset": {"field": "j", "type": "quantitative", "scale": {"domain": [-1, 1], "range": [-31.97, 55.63]}}, "y": {"field": "v", "type": "quantitative"},
"shape": {"condition": {"test": "datum.g==='AD-w-VaD'", "value": "triangle-up"}, "value": "circle"},
"fill": {"condition": [{"test": "datum.g==='CONT'", "value": "#ffffff"}, {"test": "datum.g==='AD-w-VaD'", "value": "#ff7f00"}], "value": "#0000ff"},
"stroke": {"value": "#000000"},
"strokeWidth": {"condition": {"test": "datum.g==='CONT'", "value": 2.2}, "value": 0},
"size": {"condition": [{"test": "datum.g==='CONT'", "value": 40}, {"test": "datum.g==='AD-w-VaD'", "value": 60}], "value": 48}}},
{"data": {"name": "bars"}, "transform": [{"filter": "datum.p==='m227G'"}], "mark": {"type": "rule", "color": "#000000", "strokeWidth": 2.3},
"encoding": {"x": {"field": "g", "type": "nominal"}, "y": {"field": "lo", "type": "quantitative"}, "y2": {"field": "hi"}}},
{"data": {"name": "bars"}, "transform": [{"filter": "datum.p==='m227G'"}, {"fold": ["lo", "hi"], "as": ["k", "e"]}], "mark": {"type": "tick", "orient": "horizontal", "color": "#000000", "size": 13, "thickness": 2.3},
"encoding": {"x": {"field": "g", "type": "nominal"}, "y": {"field": "e", "type": "quantitative"}}},
{"data": {"name": "brk"}, "transform": [{"filter": "datum.p==='m227G'"}], "mark": {"type": "line", "color": "#000000", "strokeWidth": 2.3, "strokeJoin": "miter", "strokeCap": "square"},
"encoding": {"x": {"field": "g", "type": "nominal"}, "y": {"field": "v", "type": "quantitative"}, "detail": {"field": "b", "type": "nominal"}, "order": {"field": "o", "type": "quantitative"}}},
{"data": {"name": "sig"}, "transform": [{"filter": "datum.p==='m227G'"}], "mark": {"type": "text", "font": "Liberation Sans", "fontSize": 30, "fontWeight": "bold", "baseline": "alphabetic", "dy": 6, "color": "#000000"},
"encoding": {"x": {"field": "g", "type": "nominal"}, "xOffset": {"field": "j", "type": "quantitative"}, "y": {"field": "v", "type": "quantitative"}, "text": {"field": "t", "type": "nominal"}}}
]
},
{
"width": 144, "height": 234,
"title": {"text": "m²,²G", "frame": "group", "offset": 19, "dx": -6},
"layer": [
{"data": {"name": "bars"}, "transform": [{"filter": "datum.p==='m22G'"}], "mark": {"type": "bar", "fill": "white", "strokeWidth": 3.3},
"encoding": {"x": {"field": "g", "type": "nominal", "scale": {"domain": ["CONT","AD-w/o-VaD","AD-w-VaD"], "paddingInner": 0.46, "paddingOuter": 0.374}, "axis": {"title": null, "labelAngle": -45}},
"y": {"field": "m", "type": "quantitative", "scale": {"domain": [0, 0.815], "nice": false}, "axis": {"title": "m²,²G / total G (%)", "values": [0, 0.2, 0.4, 0.6, 0.8], "format": ".1f"}},
"stroke": {"condition": [{"test": "datum.g==='CONT'", "value": "#000000"}, {"test": "datum.g==='AD-w-VaD'", "value": "#ff7f00"}], "value": "#0000ff"}}},
{"data": {"name": "pts"}, "transform": [{"filter": "datum.p==='m22G'"}], "mark": {"type": "point", "filled": true, "opacity": 1},
"encoding": {"x": {"field": "g", "type": "nominal"}, "xOffset": {"field": "j", "type": "quantitative", "scale": {"domain": [-1, 1], "range": [-31.97, 55.63]}}, "y": {"field": "v", "type": "quantitative"},
"shape": {"condition": {"test": "datum.g==='AD-w-VaD'", "value": "triangle-up"}, "value": "circle"},
"fill": {"condition": [{"test": "datum.g==='CONT'", "value": "#ffffff"}, {"test": "datum.g==='AD-w-VaD'", "value": "#ff7f00"}], "value": "#0000ff"},
"stroke": {"value": "#000000"},
"strokeWidth": {"condition": {"test": "datum.g==='CONT'", "value": 2.2}, "value": 0},
"size": {"condition": [{"test": "datum.g==='CONT'", "value": 40}, {"test": "datum.g==='AD-w-VaD'", "value": 60}], "value": 48}}},
{"data": {"name": "bars"}, "transform": [{"filter": "datum.p==='m22G'"}], "mark": {"type": "rule", "color": "#000000", "strokeWidth": 2.3},
"encoding": {"x": {"field": "g", "type": "nominal"}, "y": {"field": "lo", "type": "quantitative"}, "y2": {"field": "hi"}}},
{"data": {"name": "bars"}, "transform": [{"filter": "datum.p==='m22G'"}, {"fold": ["lo", "hi"], "as": ["k", "e"]}], "mark": {"type": "tick", "orient": "horizontal", "color": "#000000", "size": 13, "thickness": 2.3},
"encoding": {"x": {"field": "g", "type": "nominal"}, "y": {"field": "e", "type": "quantitative"}}},
{"data": {"name": "brk"}, "transform": [{"filter": "datum.p==='m22G'"}], "mark": {"type": "line", "color": "#000000", "strokeWidth": 2.3, "strokeJoin": "miter", "strokeCap": "square"},
"encoding": {"x": {"field": "g", "type": "nominal"}, "y": {"field": "v", "type": "quantitative"}, "detail": {"field": "b", "type": "nominal"}, "order": {"field": "o", "type": "quantitative"}}},
{"data": {"name": "sig"}, "transform": [{"filter": "datum.p==='m22G'"}], "mark": {"type": "text", "font": "Liberation Sans", "fontSize": 30, "fontWeight": "bold", "baseline": "alphabetic", "dy": 6, "color": "#000000"},
"encoding": {"x": {"field": "g", "type": "nominal"}, "xOffset": {"field": "j", "type": "quantitative"}, "y": {"field": "v", "type": "quantitative"}, "text": {"field": "t", "type": "nominal"}}}
]
}
]
}
],
"config": {
"view": {"stroke": null},
"font": "Liberation Sans",
"axis": {"domainColor": "#000000", "domainWidth": 2.3, "tickColor": "#000000", "tickWidth": 2.3, "tickSize": 6, "labelColor": "#000000", "labelFont": "Liberation Sans", "labelFontWeight": "bold", "labelFontSize": 19, "labelPadding": 2, "titleColor": "#000000", "titleFont": "Liberation Sans", "titleFontWeight": "bold", "titleFontSize": 20, "titlePadding": 4, "grid": false},
"title": {"font": "Liberation Sans", "fontSize": 21, "fontWeight": "bold", "color": "#000000"}
}
}
